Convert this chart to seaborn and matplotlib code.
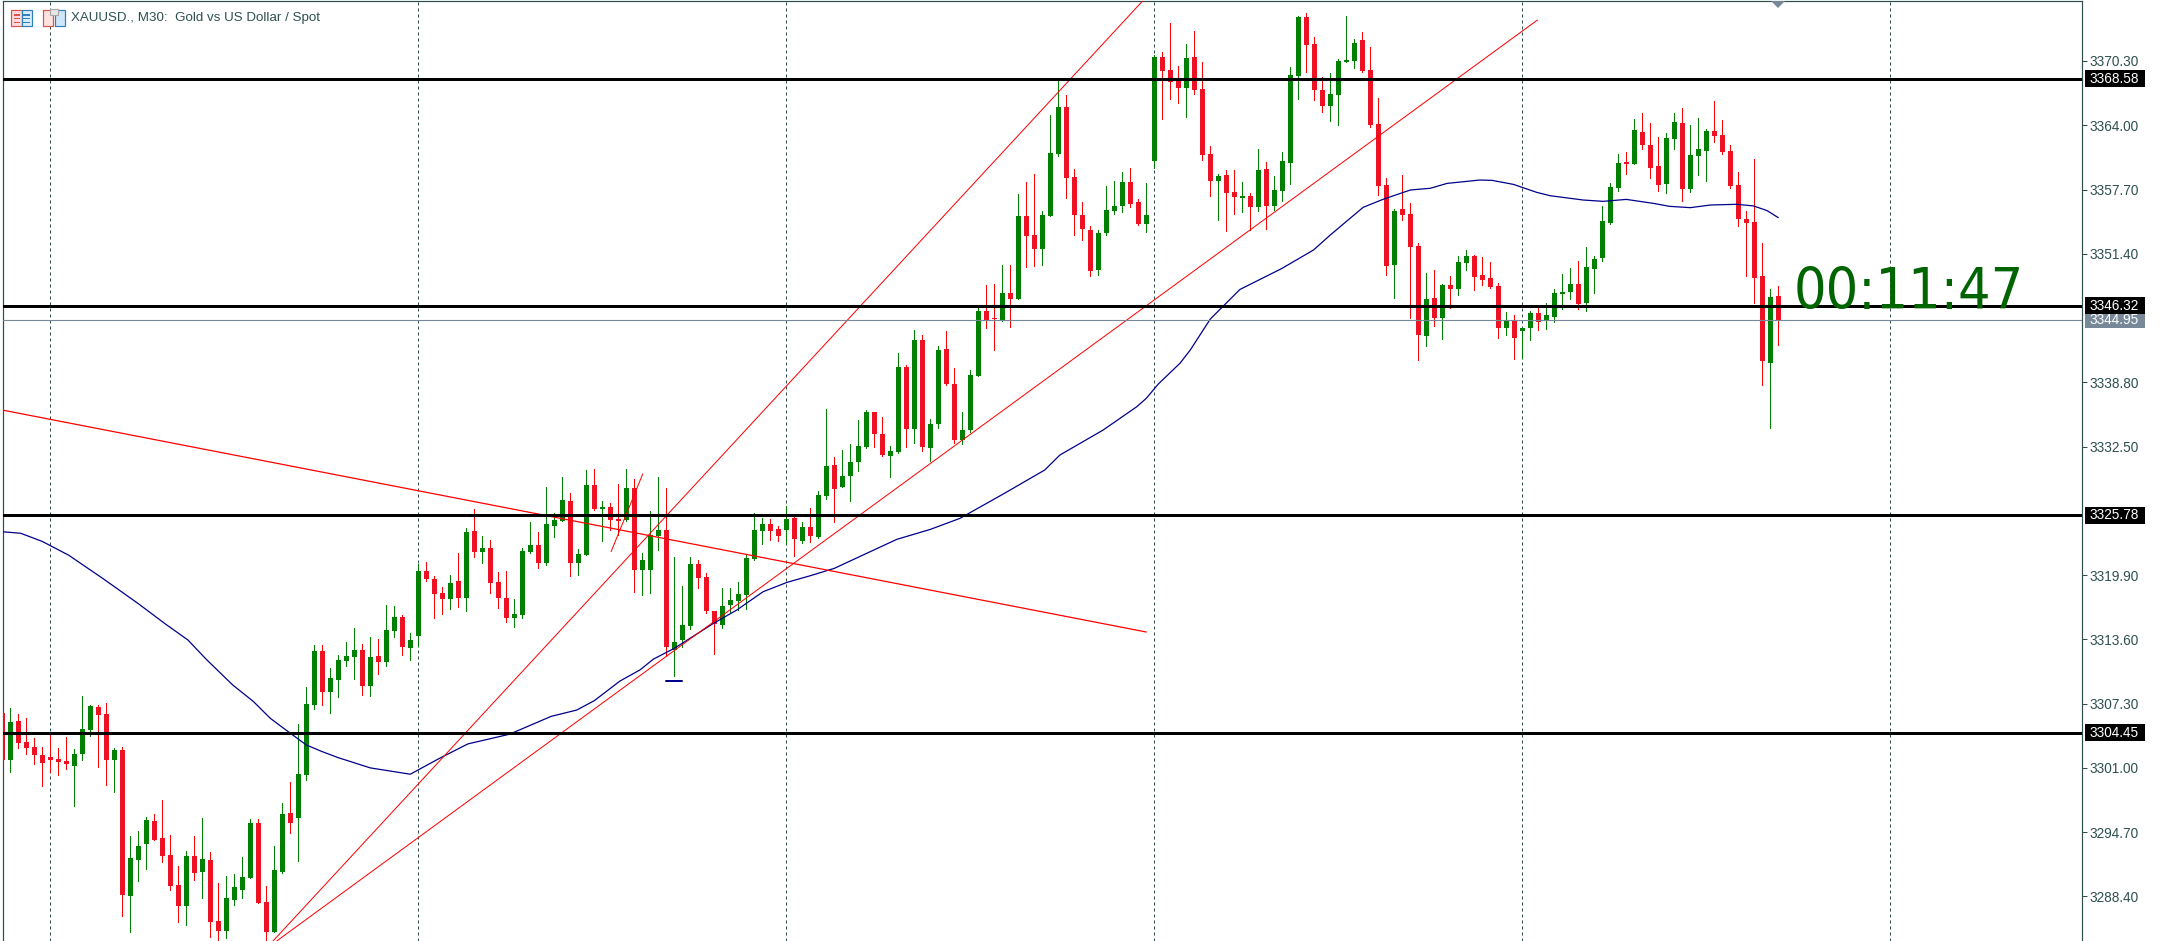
import matplotlib
matplotlib.use("Agg")
import matplotlib.pyplot as plt
from matplotlib.patches import Rectangle, Polygon
import numpy as np
import pandas as pd
import seaborn as sns

# XAUUSD M30 session, oldest bar first
high = [
    3306.84,3306.87,3306.29,3305.89,3303.93,3303.05,3304.23,3302.95,3304.03,3302.85,
    3308.05,3307.17,3307.17,3307.36,3302.95,3303.05,3294.32,3294.81,3296.19,3296.48,
    3297.85,3294.42,3291.38,3292.85,3294.32,3296.09,3292.76,3289.72,3290.40,3290.60,
    3292.27,3295.99,3295.99,3289.42,3293.34,3297.56,3299.62,3305.30,3308.93,3313.05,
    3313.05,3310.79,3312.07,3313.34,3314.71,3313.14,3313.83,3313.63,3316.96,3316.87,
    3315.98,3314.22,3320.98,3321.18,3319.81,3318.73,3319.91,3322.06,3324.51,3326.38,
    3323.73,3323.34,3320.20,3320.30,3317.55,3322.55,3325.10,3324.12,3328.53,3325.98,
    3329.51,3327.95,3322.45,3330.20,3330.30,3327.16,3326.96,3328.83,3330.30,3329.32,
    3322.06,3326.18,3329.51,3328.43,3321.67,3318.83,3321.67,3321.38,3320.10,3316.38,
    3318.63,3318.63,3319.22,3321.87,3325.98,3325.49,3325.40,3324.71,3326.67,3325.59,
    3325.10,3326.47,3328.14,3336.18,3331.47,3332.16,3332.75,3335.10,3336.08,3335.89,
    3335.40,3332.55,3341.67,3340.49,3343.93,3343.44,3335.20,3342.36,3343.83,3340.20,
    3335.89,3340.00,3346.18,3348.34,3348.44,3350.30,3350.30,3357.26,3358.43,3359.22,
    3355.59,3365.00,3368.43,3366.96,3359.71,3356.47,3354.12,3353.73,3358.04,3358.53,
    3359.41,3359.80,3356.77,3358.33,3370.89,3371.18,3374.03,3369.81,3371.97,3373.24,
    3370.20,3361.97,3359.22,3359.61,3359.61,3358.44,3357.36,3361.67,3360.40,3359.03,
    3361.38,3369.71,3374.71,3375.01,3372.65,3368.73,3369.12,3370.50,3374.71,3372.46,
    3373.14,3371.67,3366.67,3358.83,3355.79,3359.12,3356.37,3352.45,3349.51,3349.81,
    3348.43,3349.22,3351.18,3351.77,3351.28,3351.08,3350.59,3348.53,3345.69,3345.39,
    3344.12,3345.79,3346.18,3346.57,3347.94,3349.41,3350.00,3350.69,3352.06,3351.18,
    3356.09,3358.34,3361.19,3361.38,3364.62,3365.21,3364.22,3362.85,3363.24,3365.21,
    3365.70,3364.03,3364.71,3363.64,3366.38,3364.52,3362.07,3359.42,3355.60,3360.70,
    3352.46,3347.95,3348.24,
]
body_top = [
    3306.38,3305.50,3305.60,3303.54,3303.05,3302.27,3302.07,3301.87,3301.68,3302.36,
    3304.81,3307.07,3306.97,3306.29,3302.76,3302.76,3292.17,3293.34,3295.89,3295.79,
    3294.13,3292.46,3289.52,3292.36,3292.36,3292.07,3291.97,3285.99,3288.25,3289.32,
    3290.30,3295.60,3295.60,3287.85,3290.99,3296.48,3296.58,3300.40,3307.27,3312.46,
    3312.46,3309.81,3311.58,3311.96,3312.55,3312.55,3311.87,3311.96,3314.51,3315.79,
    3315.79,3313.53,3320.30,3320.30,3319.51,3318.14,3319.12,3319.32,3324.12,3324.22,
    3322.55,3322.55,3319.22,3317.65,3316.08,3322.26,3322.85,3322.85,3324.91,3325.30,
    3327.26,3327.16,3321.96,3328.73,3328.73,3326.57,3326.57,3325.40,3328.44,3328.44,
    3321.38,3323.83,3324.32,3324.32,3313.34,3315.00,3320.98,3320.98,3319.71,3316.38,
    3316.87,3317.45,3318.04,3321.57,3324.32,3324.91,3324.91,3324.42,3325.40,3325.49,
    3324.61,3324.61,3327.75,3330.59,3330.69,3329.61,3330.98,3332.55,3335.89,3335.89,
    3333.73,3332.06,3340.30,3340.30,3342.95,3342.95,3334.71,3341.97,3342.06,3338.63,
    3334.12,3339.51,3345.79,3345.79,3345.10,3347.55,3347.55,3355.10,3355.10,3353.24,
    3355.20,3361.28,3365.78,3365.78,3358.92,3355.20,3353.73,3353.43,3355.69,3356.08,
    3358.43,3358.43,3356.47,3355.20,3370.69,3370.69,3369.42,3368.63,3370.59,3370.69,
    3367.55,3361.18,3359.03,3359.12,3357.46,3357.06,3357.06,3359.61,3359.71,3357.65,
    3360.50,3368.93,3374.61,3374.61,3371.97,3367.46,3367.06,3370.30,3370.40,3372.06,
    3372.36,3369.42,3364.12,3358.14,3355.59,3355.79,3355.30,3352.16,3346.96,3347.06,
    3348.34,3348.34,3350.59,3351.18,3351.18,3349.32,3349.02,3348.24,3344.90,3344.90,
    3344.12,3345.59,3345.59,3345.39,3347.55,3347.65,3348.43,3348.43,3350.10,3350.88,
    3354.62,3357.95,3360.30,3360.40,3363.54,3363.34,3362.07,3360.01,3362.75,3364.32,
    3364.22,3361.09,3361.68,3363.44,3363.44,3363.05,3361.48,3358.15,3354.81,3354.52,
    3349.22,3347.17,3347.26,
]
body_bottom = [
    3301.78,3301.78,3303.44,3302.95,3302.27,3301.48,3301.78,3301.58,3301.38,3301.19,
    3302.36,3304.72,3306.19,3301.78,3301.78,3288.54,3288.44,3291.97,3293.54,3293.93,
    3292.36,3289.42,3287.46,3287.46,3290.70,3290.79,3285.89,3285.01,3285.01,3288.05,
    3289.03,3290.21,3287.76,3284.91,3284.91,3290.79,3295.60,3296.09,3300.30,3307.17,
    3308.44,3308.44,3309.62,3311.47,3311.87,3309.02,3309.02,3311.38,3311.38,3314.42,
    3312.85,3312.75,3313.93,3319.51,3318.04,3317.55,3317.55,3317.65,3317.65,3322.16,
    3322.16,3319.12,3317.65,3315.69,3315.69,3315.98,3322.16,3321.08,3321.08,3324.71,
    3325.20,3321.08,3321.08,3321.87,3326.38,3326.38,3325.30,3325.20,3325.30,3320.40,
    3320.40,3320.40,3323.73,3312.85,3312.55,3313.53,3314.91,3319.61,3316.38,3315.10,
    3315.00,3316.96,3317.36,3317.94,3321.47,3324.22,3324.22,3323.73,3324.32,3323.43,
    3323.24,3323.73,3323.63,3327.65,3328.34,3328.53,3329.61,3330.98,3332.46,3333.73,
    3331.67,3331.57,3331.97,3334.22,3334.22,3332.46,3332.36,3334.71,3338.63,3333.14,
    3333.14,3334.12,3339.42,3344.91,3345.00,3344.91,3346.97,3346.96,3353.14,3351.86,
    3351.86,3355.10,3361.18,3358.82,3355.20,3353.82,3349.74,3349.80,3353.43,3355.59,
    3356.08,3356.28,3354.31,3354.31,3360.50,3369.32,3368.24,3367.65,3367.65,3367.46,
    3361.08,3358.53,3358.53,3357.36,3356.97,3356.87,3355.99,3355.99,3356.08,3356.08,
    3357.55,3360.30,3368.83,3371.87,3367.46,3365.89,3365.89,3366.97,3370.20,3370.30,
    3369.32,3364.03,3358.04,3350.20,3350.30,3355.20,3352.06,3343.43,3343.34,3345.10,
    3345.10,3347.94,3347.94,3350.49,3349.12,3348.83,3348.14,3344.12,3344.12,3343.14,
    3343.83,3344.12,3344.71,3344.81,3345.20,3347.45,3347.65,3346.47,3346.57,3349.90,
    3350.99,3354.42,3357.85,3360.21,3360.21,3362.07,3359.81,3358.15,3358.24,3362.66,
    3357.75,3357.75,3360.99,3361.48,3362.95,3361.38,3358.05,3354.81,3354.42,3349.03,
    3340.89,3340.70,3344.95,
]
low = [
    3301.78,3300.60,3302.95,3302.36,3301.38,3299.23,3300.60,3300.30,3300.89,3297.27,
    3301.78,3304.13,3301.09,3299.32,3298.64,3286.48,3284.91,3289.91,3291.09,3293.93,
    3291.78,3289.03,3285.89,3285.60,3290.01,3288.25,3284.42,3284.03,3284.32,3287.56,
    3288.25,3290.21,3287.76,3284.03,3284.91,3290.70,3294.62,3291.87,3299.81,3306.78,
    3307.17,3306.38,3307.95,3310.98,3309.71,3308.14,3308.04,3310.20,3310.98,3313.83,
    3312.06,3311.57,3312.95,3319.32,3315.69,3316.08,3316.57,3316.77,3316.38,3321.67,
    3321.08,3318.14,3316.67,3315.30,3314.81,3315.69,3322.06,3320.59,3320.89,3323.63,
    3325.20,3319.81,3319.91,3321.87,3326.28,3323.24,3324.32,3323.83,3325.20,3318.24,
    3317.94,3318.14,3322.36,3311.96,3310.00,3312.85,3314.61,3318.63,3316.18,3312.16,
    3314.71,3316.28,3316.47,3316.57,3321.38,3322.94,3323.34,3323.24,3322.94,3321.77,
    3323.04,3323.14,3323.53,3327.36,3325.10,3328.53,3327.16,3330.10,3332.36,3332.46,
    3331.57,3329.55,3331.87,3332.46,3332.85,3332.06,3331.08,3334.32,3338.53,3332.85,
    3332.75,3333.93,3339.42,3344.12,3341.97,3344.81,3344.22,3346.96,3350.10,3350.20,
    3350.29,3355.10,3360.98,3356.86,3353.24,3352.75,3349.22,3349.31,3353.24,3355.29,
    3355.49,3355.98,3354.22,3353.53,3359.81,3364.61,3366.57,3366.18,3364.81,3367.06,
    3360.59,3357.06,3354.71,3353.63,3355.30,3355.50,3353.73,3355.59,3353.83,3355.69,
    3356.57,3358.24,3366.57,3369.22,3366.48,3365.30,3364.42,3364.03,3370.20,3369.61,
    3369.22,3363.83,3357.16,3349.32,3347.06,3354.71,3345.10,3340.98,3342.36,3344.32,
    3343.04,3346.08,3347.36,3349.81,3347.85,3348.34,3348.04,3343.14,3343.43,3341.08,
    3341.18,3342.94,3343.92,3344.02,3344.71,3345.98,3346.96,3345.98,3345.79,3347.55,
    3350.70,3354.32,3357.56,3359.22,3360.21,3361.68,3358.83,3357.56,3357.36,3361.68,
    3356.58,3357.46,3359.13,3358.54,3362.36,3361.19,3357.85,3354.13,3349.22,3346.54,
    3338.54,3334.32,3342.46,
]
# bar direction: G closes above its open, R closes below
direction = list(
    "RGRRRRRRRG" "GGRRGRGGGR" "RRRGRGRRGG" "GGRRGGRGGG"
    "RGGGGRGRGG" "RGGRRRGRGR" "GRRRGGGRGG" "GRGGRGRRGR"
    "GGGRGGGRRR" "GGGGGGRRGR" "GRGGRGGGGR" "RGGRGRGGRR"
    "GGGRRGRGRR" "GGGRRRRGGG" "GRRGGRRRGR" "RRGRRGRGRG"
    "GGGRRRGGGG" "RRRRGRRRGR" "GRGGRRRRGR" "GGRGGGGRGG"
    "GGGRGRRRGG" "RGGGRRRRRR" "RGR"
)

# moving average, read at these bar positions
ma_bar = [0, 2.3, 5, 8.3, 12.6, 17, 20.4, 23.2, 25.5, 28.8, 31.4, 33.5, 35, 38, 40, 42, 46, 51, 54.8,
          58.2, 63.4, 68.6, 71.8, 74, 77.2, 79.7, 81.4, 84, 88.9, 91.8, 95.1, 98.1, 101, 104, 107.6,
          111.8, 116, 119.7, 125.3, 130.3, 132.2, 137.6, 141.8, 143, 144.5, 147.2, 148.5, 151, 154.7,
          159.9, 163.9, 166, 170.1, 172.6, 176, 178.5, 180.6, 184.7, 186.2, 188.9, 191.8, 193.5, 197.6,
          200.1, 203, 206.4, 208.4, 211, 213.5, 216.8, 218.9, 220.6, 222]
ma_price = [3324.15, 3324.00, 3323.20, 3321.85, 3319.55, 3317.10, 3315.10, 3313.54, 3311.64, 3309.13, 3307.50,
            3305.86, 3304.98, 3303.25, 3302.59, 3302.00, 3301.00, 3300.38, 3302.00,
            3303.35, 3304.30, 3306.05, 3306.67, 3307.59, 3309.51, 3310.60, 3311.67, 3312.72, 3315.17, 3316.47,
            3318.27, 3319.19, 3319.84, 3320.56, 3321.87, 3323.40, 3324.38, 3325.46, 3327.93, 3330.20, 3331.67,
            3334.12, 3336.40, 3337.23, 3338.63, 3340.66, 3341.97, 3345.00, 3347.90, 3349.94, 3351.77, 3353.24,
            3355.95, 3356.74, 3357.65, 3357.82, 3358.30, 3358.63, 3358.60, 3358.20, 3357.42, 3357.09, 3356.67,
            3356.54, 3356.73, 3356.34, 3356.05, 3355.92, 3356.18, 3356.25, 3356.09, 3355.63, 3354.94]

# trend lines: (bar, price) at each end
trend_steep = ([33.84, 142.5], [3284.03, 3376.15])
trend_channel = ([34.3, 191.9], [3284.03, 3374.32])
trend_falling = ([0.0, 143.0], [3336.08, 3314.32])
trend_short = ([76.1, 80.05], [3322.20, 3329.81])
swing_mark = ([83, 85], [3309.55, 3309.55])

levels = [3368.58, 3346.32, 3325.78, 3304.45]
bid_price = 3344.95
grid_bars = [6, 52, 98, 144, 190, 236]
price_ticks = [3370.30, 3364.00, 3357.70, 3351.40, 3338.80, 3332.50,
               3319.90, 3313.60, 3307.30, 3301.00, 3294.70, 3288.40]
chart_title = "XAUUSD., M30:  Gold vs US Dollar / Spot"
countdown = "00:11:47"

sns.set_theme(style="white")
plt.rcParams["font.family"] = ["Liberation Sans", "DejaVu Sans"]

W, H = 2160, 941
INK = "#2f4f4f"
GREEN = "#008000"
RED_BODY = "#ee1123"
RED_WICK = "#ff0000"
NAVY = "#00008b"
SLATE = "#778899"
px = 0.72  # one pixel in points at 100 dpi

fig = plt.figure(figsize=(W / 100, H / 100), dpi=100, facecolor="white")
ax = fig.add_axes([2.5 / W, 0, 2079.8 / W, 939.7 / H])
ax.set_facecolor("white")
ax.set_xlim(0.025, 260.0)
ax.set_ylim(3284.03, 3376.15)

bars = pd.DataFrame({"bar": np.arange(len(high)), "high": high, "low": low,
                     "top": body_top, "bottom": body_bottom, "dir": direction})

for g in grid_bars:
    ax.axvline(g, color=INK, lw=px, dashes=(3, 3), zorder=1)

# wicks and bodies
for d, wick_col, body_col in [("G", GREEN, GREEN), ("R", RED_WICK, RED_BODY)]:
    part = bars[bars["dir"] == d]
    ax.vlines(part["bar"], part["low"], part["high"], color=wick_col, lw=0.9 * px,
              antialiased=False, zorder=2)
    ax.bar(part["bar"], part["top"] - part["bottom"], bottom=part["bottom"], width=0.68,
           color=body_col, linewidth=0, antialiased=False, zorder=3)

def draw_line(xy, color, lw, z=4):
    sns.lineplot(x=xy[0], y=xy[1], color=color, lw=lw, ax=ax, sort=False,
                 estimator=None, legend=False, zorder=z)

draw_line((ma_bar, ma_price), NAVY, 1.25 * px)
draw_line(trend_steep, RED_WICK, 1.0 * px)
draw_line(trend_channel, RED_WICK, 1.0 * px)
draw_line(trend_falling, RED_WICK, 1.25 * px)
draw_line(trend_short, RED_WICK, 1.0 * px)
draw_line(swing_mark, NAVY, 2.0 * px, z=5)

ax.axhline(bid_price, color=SLATE, lw=1.1 * px, zorder=5)
for lv in levels:
    ax.axhline(lv, color="black", lw=3.0 * px, zorder=6)

# countdown to the next bar
ax.text(1794 / 8 - 0.29, 3346.0, countdown, color="#006400", fontsize=41,
        family="DejaVu Sans", stretch="condensed", va="baseline", ha="left", zorder=7)

# axes frame and price scale
for side in ("top", "left", "right"):
    ax.spines[side].set_color(INK)
    ax.spines[side].set_linewidth(1.2 * px)
ax.spines["bottom"].set_visible(False)
ax.set_xticks([])
ax.yaxis.tick_right()
ax.set_yticks(price_ticks)
ax.set_yticklabels([f"{t:.2f}" for t in price_ticks], color=INK, fontsize=9.8)
ax.tick_params(axis="y", which="major", length=5 * px, width=px, color=INK, pad=1.8, right=True)
ax.set_xlabel("")
ax.set_ylabel("")

# price tags on the scale
yt = ax.get_yaxis_transform()
tag_x = (2085 - 2.5) / 2079.8
tag_w = 60 / 2079.8
tag_h = 17 / 10.2
text_x = (2090 - 2.5) / 2079.8
tags = [(bid_price, SLATE)] + [(lv, "black") for lv in levels]
for price, col in tags:
    ax.add_patch(Rectangle((tag_x, price - tag_h / 2), tag_w, tag_h, transform=yt,
                           facecolor=col, edgecolor="none", clip_on=False, zorder=8))
    ax.text(text_x, price, f"{price:.2f}", transform=yt, color="white", fontsize=9.8,
            va="center", ha="left", clip_on=False, zorder=9)

# order-book and chart-window glyphs beside the title
def fpx(x, y):
    return x / W, 1 - y / H

def box(x0, y0, x1, y1, fc, ec=None):
    fig.add_artist(Rectangle(fpx(x0, y1), (x1 - x0) / W, (y1 - y0) / H, transform=fig.transFigure,
                             facecolor=fc, edgecolor=ec or "none", linewidth=1.2 * px, zorder=10))

box(11, 10, 21.5, 25.5, "#fbdcdc", "#e0504f")
box(21.5, 10, 32, 25.5, "#d8ecfa", "#2f7fc1")
for yy in (14.5, 18, 21.5):
    box(13.5, yy, 20, yy + 1.3, "#e0504f")
    box(23, yy, 29.5, yy + 1.3, "#2f7fc1")
box(43, 10, 53, 25.5, "#fde3e0", "#e0504f")
box(55, 10, 64.5, 25.5, "#cfe6f8", "#2f7fc1")
box(50, 9.5, 58, 15, "#e8e8e8", "#a8a8a8")

fig.text(71 / W, 1 - 18.5 / H, chart_title, color=INK, fontsize=9.6, va="center", ha="left", zorder=11)

# current-bar marker on the top edge
fig.add_artist(Polygon([fpx(1771, 1), fpx(1785, 1), fpx(1778, 8)], closed=True, transform=fig.transFigure,
                       facecolor=SLATE, edgecolor="none", zorder=10))

fig.savefig("out.png", dpi=100, facecolor="white")
